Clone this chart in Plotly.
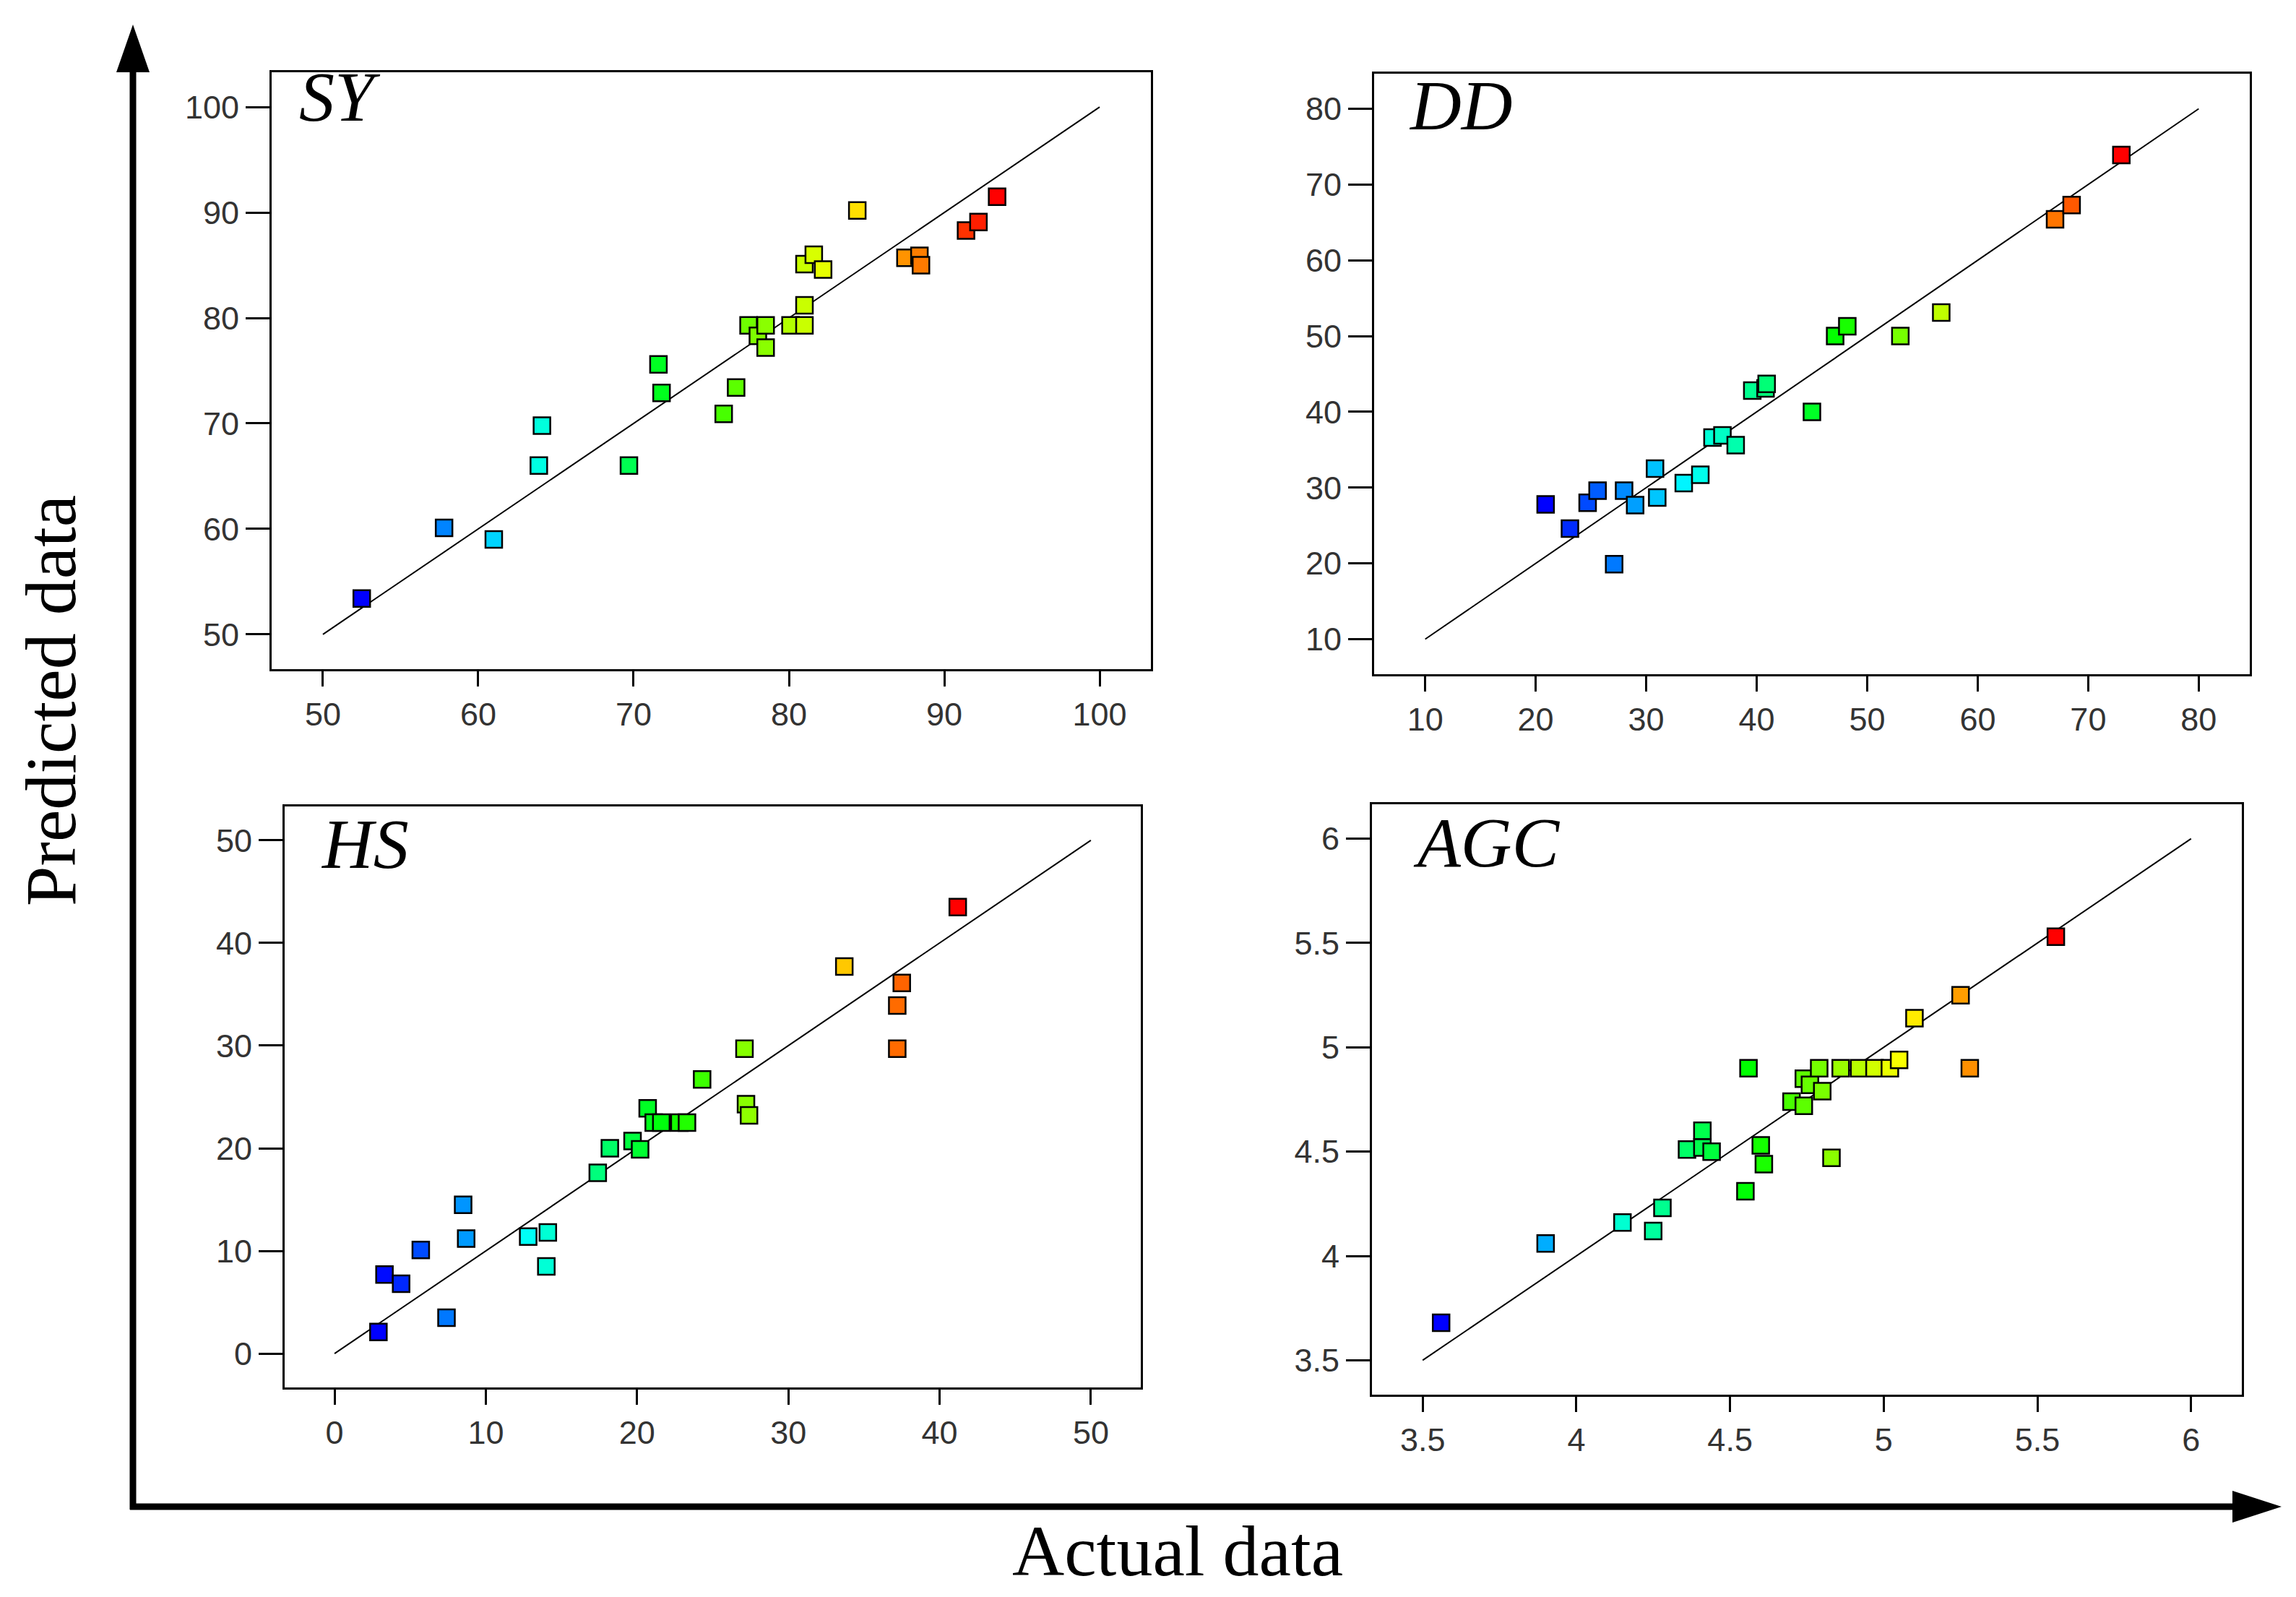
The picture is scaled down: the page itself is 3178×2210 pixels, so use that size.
import plotly.graph_objects as go

W, H = 3178, 2210

# actual / predicted values
sy_actual = [52.5, 57.8, 61.0, 63.9, 64.1, 69.7, 71.6, 71.8, 75.8, 76.6, 77.4, 78.0, 78.5, 78.5,
             80.1, 81.0, 81.0, 81.0, 81.6, 82.2, 84.4, 87.5, 88.4, 88.5, 91.4, 92.2, 93.4]
sy_pred = [53.4, 60.1, 59.0, 66.0, 69.8, 66.0, 75.6, 72.9, 70.9, 73.4, 79.3, 78.3, 77.2, 79.3,
           79.3, 79.3, 81.2, 85.1, 86.0, 84.6, 90.2, 85.7, 85.9, 85.0, 88.3, 89.1, 91.5]

dd_actual = [20.9, 23.1, 24.7, 25.6, 27.1, 28.0, 29.0, 30.8, 31.0, 33.4, 34.9, 36.0, 36.9, 38.1,
             39.6, 40.8, 40.9, 45.0, 47.1, 48.2, 53.0, 56.7, 67.0, 68.5, 73.0]
dd_pred = [27.8, 24.6, 28.0, 29.6, 19.9, 29.6, 27.7, 32.5, 28.7, 30.6, 31.7, 36.6, 36.9, 35.6,
           42.8, 43.1, 43.7, 40.0, 50.0, 51.3, 50.0, 53.1, 65.4, 67.3, 73.9]

hs_actual = [2.9, 3.3, 4.4, 5.7, 7.4, 8.5, 8.7, 12.8, 14.0, 14.1, 17.4, 18.2, 19.7, 20.2, 20.7,
             21.1, 21.6, 22.8, 23.3, 24.3, 27.1, 27.2, 27.4, 33.7, 37.2, 37.2, 37.5, 41.2]
hs_pred = [2.1, 7.7, 6.8, 10.1, 3.5, 14.5, 11.2, 11.4, 8.5, 11.8, 17.6, 20.0, 20.7, 19.9, 23.9,
           22.5, 22.5, 22.5, 22.5, 26.7, 29.7, 24.3, 23.2, 37.7, 33.9, 29.7, 36.1, 43.5]

agc_actual = [3.56, 3.90, 4.15, 4.25, 4.28, 4.36, 4.41, 4.41, 4.44, 4.55, 4.56, 4.60, 4.61, 4.70,
              4.74, 4.74, 4.76, 4.79, 4.80, 4.83, 4.86, 4.92, 4.97, 5.02, 5.05, 5.10, 5.25, 5.28, 5.56]
agc_pred = [3.68, 4.06, 4.16, 4.12, 4.23, 4.51, 4.60, 4.52, 4.50, 4.31, 4.90, 4.53, 4.44, 4.74,
            4.72, 4.85, 4.82, 4.90, 4.79, 4.47, 4.90, 4.90, 4.90, 4.90, 4.94, 5.14, 5.25, 4.90, 5.53]

# 1:1 line ends (= first and last tick)
sy_line = [50, 100]
dd_line = [10, 80]
hs_line = [0, 50]
agc_line = [3.5, 6]

rainbow = [[0, 'rgb(0,0,255)'], [0.25, 'rgb(0,255,255)'], [0.5, 'rgb(0,255,0)'],
           [0.75, 'rgb(255,255,0)'], [1, 'rgb(255,0,0)']]


def px(x):
    return x / W


def py(y):
    return 1 - y / H


# panel boxes in pixels: (left, top, right, bottom), label position
panels = [
    ('SY', sy_actual, sy_pred, sy_line, 10, (368, 92, 1585, 918), (404, 126)),
    ('DD', dd_actual, dd_pred, dd_line, 10, (1894, 94, 3106, 925), (1940, 138)),
    ('HS', hs_actual, hs_pred, hs_line, 10, (386, 1108, 1571, 1912), (434, 1160)),
    ('AGC', agc_actual, agc_pred, agc_line, 0.5, (1891, 1105, 3095, 1922), (1946, 1158)),
]

fig = go.Figure()
layout = {}
annotations = []

for i, (name, act, pred, ln, dt, box, lab) in enumerate(panels):
    n = '' if i == 0 else str(i + 1)
    xa, ya = 'x' + n, 'y' + n
    pad = (ln[1] - ln[0]) * 0.066
    rng = [ln[0] - pad, ln[1] + pad]

    fig.add_trace(go.Scatter(x=ln, y=ln, mode='lines', xaxis=xa, yaxis=ya,
                             line=dict(color='black', width=2), showlegend=False))
    fig.add_trace(go.Scatter(x=act, y=pred, mode='markers', xaxis=xa, yaxis=ya,
                             marker=dict(symbol='square', size=23, color=act,
                                         colorscale=rainbow, cmin=min(act), cmax=max(act),
                                         line=dict(color='black', width=2.5)),
                             showlegend=False))

    common = dict(range=rng, dtick=dt, showgrid=False, zeroline=False, showline=True,
                  mirror=True, linecolor='black', linewidth=3, ticks='outside',
                  tickwidth=3, tickcolor='black',
                  tickfont=dict(family='Liberation Sans, Arial', size=45, color='#333'))
    l, t, r, b = box
    layout['xaxis' + n] = dict(common, domain=[px(l), px(r)], anchor=ya, ticklen=21)
    layout['yaxis' + n] = dict(common, domain=[py(b), py(t)], anchor=xa, ticklen=33)

    annotations.append(dict(text='<i>' + name + '</i>', xref='paper', yref='paper',
                            x=px(lab[0]), y=py(lab[1]), xanchor='left', yanchor='middle',
                            showarrow=False,
                            font=dict(family='Liberation Serif, Times New Roman', size=98,
                                      color='black')))

# big axis titles
annotations.append(dict(text='Actual data', xref='paper', yref='paper', x=px(1622), y=py(2138),
                        xanchor='center', yanchor='middle', showarrow=False,
                        font=dict(family='Liberation Serif, Times New Roman', size=100,
                                  color='black')))
annotations.append(dict(text='Predicted data', xref='paper', yref='paper', x=px(62), y=py(962),
                        xanchor='center', yanchor='middle', showarrow=False, textangle=-90,
                        font=dict(family='Liberation Serif, Times New Roman', size=100,
                                  color='black')))

# framing arrows
shapes = [
    dict(type='line', xref='paper', yref='paper', x0=px(176), x1=px(176), y0=py(2081), y1=py(92),
         line=dict(color='black', width=9)),
    dict(type='line', xref='paper', yref='paper', x0=px(172), x1=px(3084), y0=py(2077), y1=py(2077),
         line=dict(color='black', width=9)),
    dict(type='path', xref='paper', yref='paper', fillcolor='black', line=dict(width=0),
         path=f'M {px(153)},{py(92)} L {px(199)},{py(92)} L {px(176)},{py(26)} Z'),
    dict(type='path', xref='paper', yref='paper', fillcolor='black', line=dict(width=0),
         path=f'M {px(3082)},{py(2055)} L {px(3082)},{py(2099)} L {px(3150)},{py(2077)} Z'),
]

fig.update_layout(width=W, height=H, autosize=False, margin=dict(l=0, r=0, t=0, b=0),
                  paper_bgcolor='white', plot_bgcolor='white',
                  annotations=annotations, shapes=shapes, **layout)

fig.write_html("out.html")
